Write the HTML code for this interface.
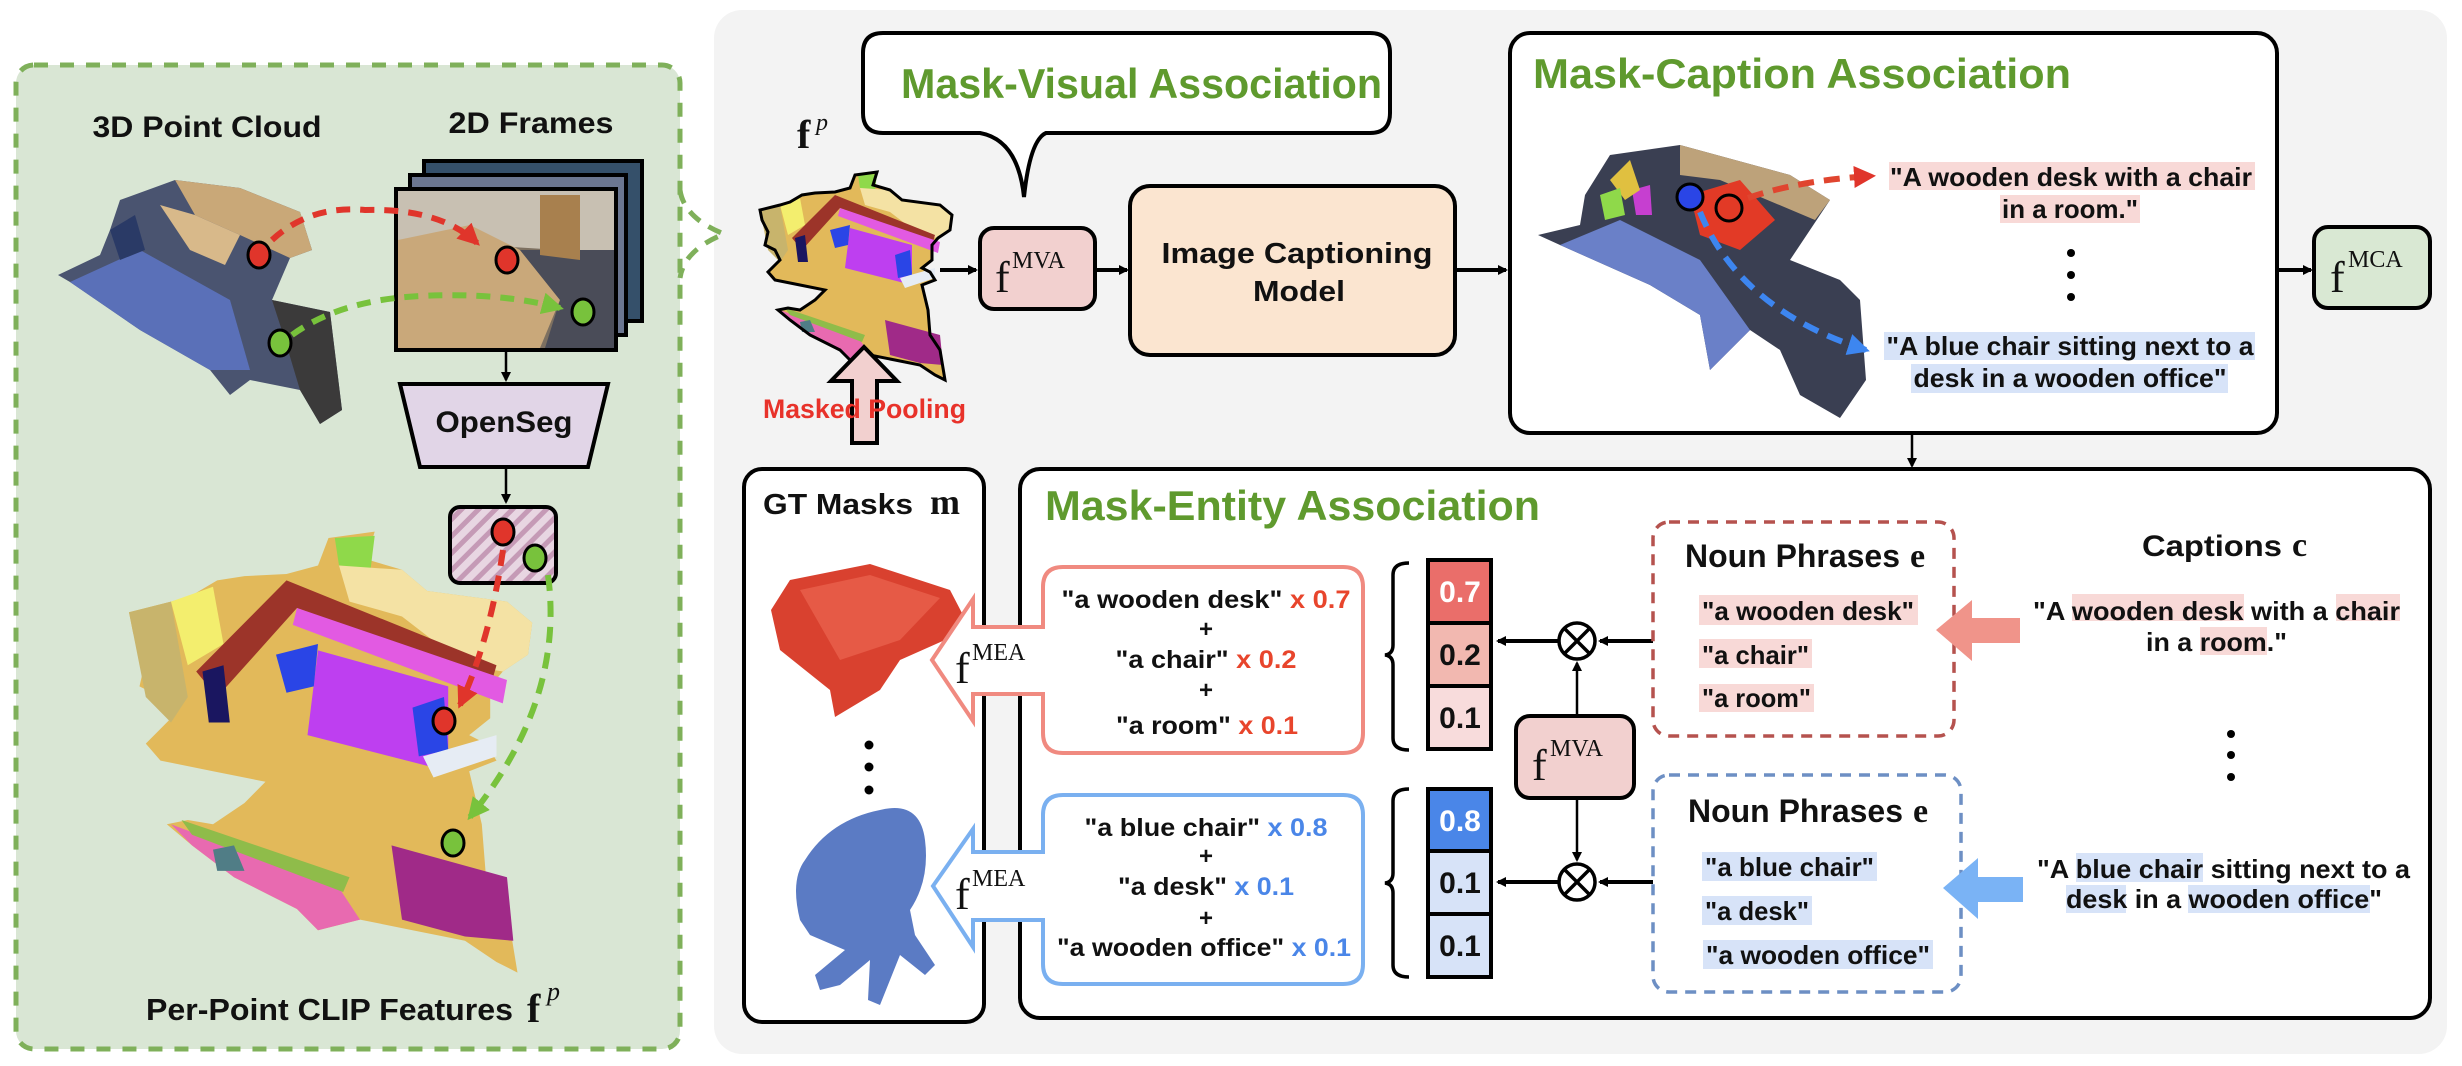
<!DOCTYPE html>
<html><head><meta charset="utf-8"><style>
html,body{margin:0;padding:0;background:#fff}
svg{display:block}
text{font-family:"Liberation Sans",Arial,sans-serif;font-weight:bold;fill:#111}
.s{font-family:"Liberation Serif",serif;font-weight:normal}
.g{fill:#5f9a2e}
</style></head><body>
<svg width="2462" height="1066" viewBox="0 0 2462 1066" xmlns="http://www.w3.org/2000/svg">
<defs>
<pattern id="hatch" width="12" height="12" patternUnits="userSpaceOnUse" patternTransform="rotate(45)">
<rect width="12" height="12" fill="#e8d6e2"/><rect width="5" height="12" fill="#c59ab6"/></pattern>
<marker id="ab" markerWidth="10" markerHeight="10" refX="8" refY="5" orient="auto" markerUnits="userSpaceOnUse"><path d="M0,0 L10,5 L0,10 Z" fill="#000"/></marker>
<marker id="ar" markerWidth="22" markerHeight="22" refX="18" refY="11" orient="auto" markerUnits="userSpaceOnUse"><path d="M0,0 L22,11 L0,22 Z" fill="#e0352b"/></marker>
<marker id="ag" markerWidth="22" markerHeight="22" refX="18" refY="11" orient="auto" markerUnits="userSpaceOnUse"><path d="M0,0 L22,11 L0,22 Z" fill="#78c23c"/></marker>
<marker id="abl" markerWidth="22" markerHeight="22" refX="18" refY="11" orient="auto" markerUnits="userSpaceOnUse"><path d="M0,0 L22,11 L0,22 Z" fill="#3d86f0"/></marker>
<g id="mesh">
<path d="M115,25 L137,22 L133,35 L150,40 L162,50 L200,55 L212,65 L210,80 L198,88 L192,95 L192,110 L182,118 L190,122 L195,130 L182,135 L188,160 L190,185 L200,200 L205,230 L195,225 L180,215 L155,210 L130,205 L110,210 L100,200 L70,185 L50,170 L38,160 L48,158 L60,160 L75,150 L85,140 L60,135 L35,130 L28,122 L40,110 L35,100 L25,95 L28,82 L22,70 L20,60 L40,55 L50,52 L62,45 L75,43 L95,42 L110,38 Z" fill="#e2b95a"/>
<path d="M118,25 L137,24 L135,40 L120,38 Z" fill="#8fd94a"/>
<path d="M120,38 L150,40 L162,50 L200,55 L212,65 L210,80 L198,88 L180,85 L150,62 L125,55 Z" fill="#f4e2a4"/>
<path d="M20,60 L40,55 L48,100 L40,112 L28,100 Z" fill="#c8b46c"/>
<path d="M40,55 L60,48 L65,75 L48,85 Z" fill="#f3ee6e"/>
<path d="M52,88 L95,45 L195,85 L193,92 L100,58 L62,100 Z" fill="#9c3429"/>
<path d="M100,58 L200,92 L198,103 L98,66 Z" fill="#e25ae2"/>
<path d="M110,78 L172,95 L172,135 L105,118 Z" fill="#be3ff0"/>
<path d="M90,80 L110,75 L108,95 L95,98 Z" fill="#2a45e6"/>
<path d="M155,105 L170,100 L172,125 L158,128 Z" fill="#2a45e6"/>
<path d="M55,88 L65,85 L68,112 L58,112 Z" fill="#1a1660"/>
<path d="M160,128 L195,118 L195,128 L165,138 Z" fill="#e6ecf4"/>
<path d="M40,160 L120,190 L130,205 L110,210 L100,200 L70,185 L50,170 Z" fill="#e86ab0"/>
<path d="M45,158 L125,185 L122,192 L50,165 Z" fill="#8fbc4a"/>
<path d="M145,170 L200,185 L203,215 L180,213 L150,205 Z" fill="#a02a88"/>
<path d="M60,172 L70,170 L75,182 L62,182 Z" fill="#507d86"/>
</g>
</defs>

<!-- green left panel -->
<rect x="16" y="65" width="664" height="984" rx="18" fill="#d9e6d4" stroke="#7fb05a" stroke-width="5" stroke-dasharray="14 12"/>
<!-- gray panel -->
<rect x="714" y="10" width="1733" height="1044" rx="28" fill="#f3f3f3"/>
<!-- curly connector -->
<path d="M680,190 Q684,218 724,234 Q684,250 680,278" fill="none" stroke="#7fb05a" stroke-width="5" stroke-dasharray="14 10"/>

<!-- left panel content -->
<text x="207" y="137" text-anchor="middle" font-size="30" textLength="229" lengthAdjust="spacingAndGlyphs">3D Point Cloud</text>
<text x="531" y="133" text-anchor="middle" font-size="30" textLength="165" lengthAdjust="spacingAndGlyphs">2D Frames</text>
<!-- 3D point cloud -->
<g>
<path d="M120,200 L175,180 L240,188 L300,212 L312,250 L290,258 L272,300 L330,312 L342,410 L320,424 L300,390 L250,380 L230,395 L210,370 L140,330 L70,282 L58,275 L100,255 L110,230 Z" fill="#4a5470"/>
<path d="M70,282 L140,250 L230,300 L250,370 L210,370 L140,330 Z" fill="#5a70b8"/>
<path d="M175,180 L240,188 L300,212 L312,250 L290,258 L240,235 L195,215 Z" fill="#c9a878"/>
<path d="M160,205 L195,215 L240,235 L225,265 L190,250 Z" fill="#d8b98a"/>
<path d="M272,300 L330,312 L342,410 L320,424 L300,390 L285,340 Z" fill="#3b3a3a"/>
<path d="M110,230 L135,215 L145,250 L120,260 Z" fill="#2a3a66"/>
</g>
<!-- frames -->
<rect x="424" y="161" width="218" height="160" fill="#35506a" stroke="#000" stroke-width="4"/>
<rect x="410" y="175" width="216" height="160" fill="#6b7690" stroke="#000" stroke-width="4"/>
<rect x="396" y="189" width="220" height="161" fill="#7d7060" stroke="#000" stroke-width="4"/>
<path d="M398,191 L614,191 L614,290 L560,250 L398,240 Z" fill="#c8c0b2"/>
<path d="M398,240 L470,225 L520,250 L560,300 L540,348 L398,348 Z" fill="#c9a87a"/>
<path d="M520,250 L614,250 L614,348 L545,348 L560,300 Z" fill="#4a4c58"/>
<path d="M540,195 L580,195 L580,260 L540,255 Z" fill="#a8804e"/>
<!-- dashed correspondences -->
<path d="M272,240 Q310,205 365,210 Q440,208 477,243" fill="none" stroke="#e0352b" stroke-width="6" stroke-dasharray="14 10" marker-end="url(#ar)"/>
<path d="M292,335 Q340,300 420,296 Q500,292 560,308" fill="none" stroke="#78c23c" stroke-width="6" stroke-dasharray="14 10" marker-end="url(#ag)"/>
<ellipse cx="259" cy="255" rx="11" ry="13" fill="#e0352b" stroke="#000" stroke-width="3"/>
<ellipse cx="280" cy="343" rx="11" ry="13" fill="#78c23c" stroke="#000" stroke-width="3"/>
<ellipse cx="507" cy="260" rx="11" ry="13" fill="#e0352b" stroke="#000" stroke-width="3"/>
<ellipse cx="583" cy="312" rx="11" ry="13" fill="#78c23c" stroke="#000" stroke-width="3"/>
<!-- openseg -->
<line x1="506" y1="350" x2="506" y2="380" stroke="#000" stroke-width="2.5" marker-end="url(#ab)"/>
<path d="M400,384 L608,384 L588,467 L420,467 Z" fill="#e1d5e7" stroke="#000" stroke-width="4"/>
<text x="504" y="432" text-anchor="middle" font-size="30" textLength="137" lengthAdjust="spacingAndGlyphs">OpenSeg</text>
<line x1="506" y1="467" x2="506" y2="502" stroke="#000" stroke-width="2.5" marker-end="url(#ab)"/>
<!-- big per-point mesh -->
<use href="#mesh" transform="translate(87,485) scale(2.1,2.12)"/>
<rect x="450" y="507" width="106" height="76" rx="10" fill="url(#hatch)" stroke="#000" stroke-width="4"/>
<path d="M503,550 Q490,640 460,705" fill="none" stroke="#e0352b" stroke-width="6" stroke-dasharray="16 10" marker-end="url(#ar)"/>
<path d="M548,575 Q565,700 470,817" fill="none" stroke="#78c23c" stroke-width="6" stroke-dasharray="16 10" marker-end="url(#ag)"/>
<ellipse cx="503" cy="532" rx="11" ry="13" fill="#e0352b" stroke="#000" stroke-width="3"/>
<ellipse cx="535" cy="558" rx="11" ry="13" fill="#78c23c" stroke="#000" stroke-width="3"/>
<ellipse cx="444" cy="721" rx="11" ry="13" fill="#e0352b" stroke="#000" stroke-width="3"/>
<ellipse cx="453" cy="843" rx="11" ry="13" fill="#78c23c" stroke="#000" stroke-width="3"/>
<text x="146" y="1020" font-size="31" textLength="367" lengthAdjust="spacingAndGlyphs">Per-Point CLIP Features</text>
<text x="527" y="1022" class="s" font-size="40" font-weight="bold" style="font-weight:bold">f</text>
<text x="547" y="1000" class="s" font-size="26" font-style="italic">p</text>

<!-- Mask-Visual bubble -->
<path d="M883,33 H1370 Q1390,33 1390,53 V113 Q1390,133 1370,133 H1046 Q1030,140 1024,197 Q1018,140 980,133 H883 Q863,133 863,113 V53 Q863,33 883,33 Z" fill="#fff" stroke="#000" stroke-width="4"/>
<text x="901" y="98" class="g" font-size="42" textLength="481" lengthAdjust="spacingAndGlyphs">Mask-Visual Association</text>
<text x="797" y="148" class="s" font-size="40" style="font-weight:bold">f</text>
<text x="816" y="130" class="s" font-size="24" font-style="italic">p</text>
<!-- fp mesh -->
<use href="#mesh" transform="translate(740,150)" stroke="#000" stroke-width="0"/>
<path d="M115,25 L137,22 L133,35 L150,40 L162,50 L200,55 L212,65 L210,80 L198,88 L192,95 L192,110 L182,118 L190,122 L195,130 L182,135 L188,160 L190,185 L200,200 L205,230 L195,225 L180,215 L155,210 L130,205 L110,210 L100,200 L70,185 L50,170 L38,160 L48,158 L60,160 L75,150 L85,140 L60,135 L35,130 L28,122 L40,110 L35,100 L25,95 L28,82 L22,70 L20,60 L40,55 L50,52 L62,45 L75,43 L95,42 L110,38 Z" transform="translate(740,150)" fill="none" stroke="#000" stroke-width="3"/>
<!-- masked pooling arrow -->
<path d="M864,347 L897,381 L877,381 L877,443 L852,443 L852,381 L831,381 Z" fill="#f2d0cf" stroke="#000" stroke-width="4"/>
<text x="763" y="418" font-size="27" fill="#e8322a" style="fill:#e8322a" textLength="203" lengthAdjust="spacingAndGlyphs">Masked Pooling</text>
<!-- fMVA -->
<line x1="940" y1="270" x2="976" y2="270" stroke="#000" stroke-width="4" marker-end="url(#ab)"/>
<rect x="980" y="228" width="115" height="81" rx="14" fill="#f2d0cf" stroke="#000" stroke-width="4"/>
<text x="995" y="292" class="s" font-size="44">f</text>
<text x="1012" y="268" class="s" font-size="24">MVA</text>
<line x1="1095" y1="270" x2="1127" y2="270" stroke="#000" stroke-width="4" marker-end="url(#ab)"/>
<!-- image captioning -->
<rect x="1130" y="186" width="325" height="169" rx="20" fill="#fbe5d0" stroke="#000" stroke-width="4"/>
<text x="1297" y="263" text-anchor="middle" font-size="29" textLength="271" lengthAdjust="spacingAndGlyphs">Image Captioning</text>
<text x="1299" y="301" text-anchor="middle" font-size="29" textLength="92" lengthAdjust="spacingAndGlyphs">Model</text>
<line x1="1455" y1="270" x2="1506" y2="270" stroke="#000" stroke-width="4" marker-end="url(#ab)"/>

<!-- Mask-Caption -->
<rect x="1510" y="33" width="767" height="400" rx="20" fill="#fff" stroke="#000" stroke-width="4"/>
<text x="1533" y="88" class="g" font-size="42" textLength="538" lengthAdjust="spacingAndGlyphs">Mask-Caption Association</text>
<g>
<path d="M1610,155 L1680,145 L1790,175 L1830,200 L1810,230 L1790,260 L1840,280 L1860,300 L1866,380 L1840,418 L1800,395 L1780,350 L1750,330 L1710,370 L1700,315 L1650,285 L1560,245 L1538,235 L1580,225 L1585,195 Z" fill="#3a3f52"/>
<path d="M1560,245 L1620,220 L1700,260 L1750,330 L1710,370 L1700,315 L1650,285 Z" fill="#6a80c8"/>
<path d="M1680,145 L1790,175 L1830,200 L1815,220 L1720,180 L1680,175 Z" fill="#bda27a"/>
<path d="M1690,195 L1740,180 L1775,220 L1740,250 L1700,235 Z" fill="#e23a26"/>
<path d="M1632,190 L1650,185 L1652,215 L1636,215 Z" fill="#c63fd0"/>
<path d="M1610,180 L1630,160 L1640,190 L1625,200 Z" fill="#e0c040"/>
<path d="M1600,195 L1620,188 L1625,215 L1605,220 Z" fill="#8fd94a"/>
</g>
<path d="M1748,198 Q1800,180 1872,176" fill="none" stroke="#e0452f" stroke-width="6" stroke-dasharray="16 10" marker-end="url(#ar)"/>
<path d="M1700,212 Q1740,310 1866,350" fill="none" stroke="#3d86f0" stroke-width="6" stroke-dasharray="16 10" marker-end="url(#abl)"/>
<circle cx="1690" cy="197" r="13" fill="#2a45e6" stroke="#000" stroke-width="3"/>
<circle cx="1729" cy="208" r="13" fill="none" stroke="#000" stroke-width="3"/>
<rect x="1889" y="162" width="366" height="28" fill="#f8d9d7"/>
<rect x="2000" y="195" width="140" height="28" fill="#f8d9d7"/>
<text x="2071" y="186" text-anchor="middle" font-size="26" textLength="362" lengthAdjust="spacingAndGlyphs">"A wooden desk with a chair</text>
<text x="2070" y="218" text-anchor="middle" font-size="26" textLength="136" lengthAdjust="spacingAndGlyphs">in a room."</text>
<circle cx="2071" cy="253" r="4" fill="#000"/><circle cx="2071" cy="275" r="4" fill="#000"/><circle cx="2071" cy="297" r="4" fill="#000"/>
<rect x="1884" y="332" width="371" height="28" fill="#d7e3f8"/>
<rect x="1911" y="364" width="317" height="29" fill="#d7e3f8"/>
<text x="2070" y="355" text-anchor="middle" font-size="26" textLength="367" lengthAdjust="spacingAndGlyphs">"A blue chair sitting next to a</text>
<text x="2070" y="387" text-anchor="middle" font-size="26" textLength="313" lengthAdjust="spacingAndGlyphs">desk in a wooden office"</text>
<line x1="2277" y1="270" x2="2311" y2="270" stroke="#000" stroke-width="4" marker-end="url(#ab)"/>
<rect x="2314" y="227" width="116" height="81" rx="14" fill="#d9e8d3" stroke="#000" stroke-width="4"/>
<text x="2330" y="292" class="s" font-size="44">f</text>
<text x="2348" y="267" class="s" font-size="24">MCA</text>
<line x1="1912" y1="433" x2="1912" y2="466" stroke="#000" stroke-width="2.5" marker-end="url(#ab)"/>

<!-- GT masks box -->
<rect x="744" y="469" width="240" height="553" rx="18" fill="#fff" stroke="#000" stroke-width="4"/>
<text x="763" y="514" font-size="29" textLength="150" lengthAdjust="spacingAndGlyphs">GT Masks</text>
<text x="930" y="514" class="s" font-size="36" style="font-weight:bold">m</text>
<path d="M790,580 L870,564 L950,590 L963,615 L945,640 L900,660 L880,690 L835,717 L830,690 L780,650 L771,610 Z" fill="#d9412f"/>
<path d="M800,590 L870,575 L940,598 L900,640 L840,660 Z" fill="#e65a46"/>
<circle cx="869" cy="745" r="4.5" fill="#000"/><circle cx="869" cy="767" r="4.5" fill="#000"/><circle cx="869" cy="790" r="4.5" fill="#000"/>
<path d="M880,810 Q920,800 925,840 Q930,880 910,910 L915,935 L935,965 L925,975 L900,955 L880,1005 L868,1000 L870,960 L840,985 L820,990 L815,975 L845,950 L810,935 L800,920 Q790,880 805,860 Q830,820 880,810 Z" fill="#5b7bc4"/>

<!-- Mask-Entity box -->
<rect x="1020" y="469" width="1410" height="549" rx="20" fill="#fff" stroke="#000" stroke-width="4"/>
<text x="1045" y="520" class="g" font-size="42" textLength="495" lengthAdjust="spacingAndGlyphs">Mask-Entity Association</text>

<!-- red arrow box -->
<path d="M1063,567 H1343 Q1363,567 1363,587 V733 Q1363,753 1343,753 H1063 Q1043,753 1043,733 V694 H973 V721 L932,660 L973,599 V627 H1043 V587 Q1043,567 1063,567 Z" fill="#fff" stroke="#f08a80" stroke-width="4"/>
<text x="955" y="683" class="s" font-size="44">f</text>
<text x="972" y="660" class="s" font-size="24">MEA</text>
<text x="1206" y="608" text-anchor="middle" font-size="25" textLength="289" lengthAdjust="spacingAndGlyphs">"a wooden desk" <tspan style="fill:#e8452c">x 0.7</tspan></text>
<text x="1206" y="637" text-anchor="middle" font-size="24">+</text>
<text x="1206" y="668" text-anchor="middle" font-size="25" textLength="181" lengthAdjust="spacingAndGlyphs">"a chair" <tspan style="fill:#e8452c">x 0.2</tspan></text>
<text x="1206" y="698" text-anchor="middle" font-size="24">+</text>
<text x="1207" y="734" text-anchor="middle" font-size="25" textLength="182" lengthAdjust="spacingAndGlyphs">"a room" <tspan style="fill:#e8452c">x 0.1</tspan></text>
<!-- blue arrow box -->
<path d="M1063,795 H1343 Q1363,795 1363,815 V964 Q1363,984 1343,984 H1063 Q1043,984 1043,964 V920 H973 V947 L933,886 L973,829 V852 H1043 V815 Q1043,795 1063,795 Z" fill="#fff" stroke="#7ab0f0" stroke-width="4"/>
<text x="955" y="909" class="s" font-size="44">f</text>
<text x="972" y="886" class="s" font-size="24">MEA</text>
<text x="1206" y="836" text-anchor="middle" font-size="25" textLength="243" lengthAdjust="spacingAndGlyphs">"a blue chair" <tspan style="fill:#4a86e8">x 0.8</tspan></text>
<text x="1206" y="864" text-anchor="middle" font-size="24">+</text>
<text x="1206" y="895" text-anchor="middle" font-size="25" textLength="176" lengthAdjust="spacingAndGlyphs">"a desk" <tspan style="fill:#4a86e8">x 0.1</tspan></text>
<text x="1206" y="926" text-anchor="middle" font-size="24">+</text>
<text x="1204" y="956" text-anchor="middle" font-size="25" textLength="294" lengthAdjust="spacingAndGlyphs">"a wooden office" <tspan style="fill:#4a86e8">x 0.1</tspan></text>

<!-- braces -->
<path d="M1409,563 Q1393,563 1393,575 V645 Q1393,654 1385,655 Q1393,656 1393,665 V738 Q1393,750 1409,750" fill="none" stroke="#000" stroke-width="3.5"/>
<path d="M1409,789 Q1393,789 1393,801 V873 Q1393,882 1385,883 Q1393,884 1393,893 V965 Q1393,977 1409,977" fill="none" stroke="#000" stroke-width="3.5"/>
<!-- score columns -->
<rect x="1428" y="560" width="63" height="63" fill="#ea6e6a" stroke="#000" stroke-width="4"/>
<rect x="1428" y="623" width="63" height="63" fill="#f2b8b0" stroke="#000" stroke-width="4"/>
<rect x="1428" y="686" width="63" height="63" fill="#f8dcdc" stroke="#000" stroke-width="4"/>
<text x="1460" y="602" text-anchor="middle" font-size="30" style="fill:#fff">0.7</text>
<text x="1460" y="665" text-anchor="middle" font-size="30">0.2</text>
<text x="1460" y="728" text-anchor="middle" font-size="30">0.1</text>
<rect x="1428" y="789" width="63" height="62" fill="#4a86e8" stroke="#000" stroke-width="4"/>
<rect x="1428" y="851" width="63" height="63" fill="#d7e3f8" stroke="#000" stroke-width="4"/>
<rect x="1428" y="914" width="63" height="63" fill="#d7e3f8" stroke="#000" stroke-width="4"/>
<text x="1460" y="831" text-anchor="middle" font-size="30" style="fill:#fff">0.8</text>
<text x="1460" y="893" text-anchor="middle" font-size="30">0.1</text>
<text x="1460" y="956" text-anchor="middle" font-size="30">0.1</text>
<!-- otimes -->
<g stroke="#000" stroke-width="3.5" fill="#fff">
<circle cx="1577" cy="641" r="18"/><line x1="1564" y1="628" x2="1590" y2="654"/><line x1="1590" y1="628" x2="1564" y2="654"/>
<circle cx="1577" cy="882" r="18"/><line x1="1564" y1="869" x2="1590" y2="895"/><line x1="1590" y1="869" x2="1564" y2="895"/>
</g>
<line x1="1558" y1="641" x2="1498" y2="641" stroke="#000" stroke-width="4" marker-end="url(#ab)"/>
<line x1="1558" y1="882" x2="1498" y2="882" stroke="#000" stroke-width="4" marker-end="url(#ab)"/>
<line x1="1653" y1="641" x2="1600" y2="641" stroke="#000" stroke-width="4" marker-end="url(#ab)"/>
<line x1="1653" y1="882" x2="1600" y2="882" stroke="#000" stroke-width="4" marker-end="url(#ab)"/>
<line x1="1577" y1="716" x2="1577" y2="663" stroke="#000" stroke-width="2.5" marker-end="url(#ab)"/>
<line x1="1577" y1="798" x2="1577" y2="860" stroke="#000" stroke-width="2.5" marker-end="url(#ab)"/>
<rect x="1516" y="716" width="118" height="82" rx="14" fill="#f2d0cf" stroke="#000" stroke-width="4"/>
<text x="1532" y="780" class="s" font-size="44">f</text>
<text x="1550" y="756" class="s" font-size="24">MVA</text>

<!-- noun phrase boxes -->
<rect x="1653" y="522" width="301" height="214" rx="16" fill="#fff" stroke="#b5524e" stroke-width="3.5" stroke-dasharray="11 8"/>
<text x="1685" y="567" font-size="32" textLength="215" lengthAdjust="spacingAndGlyphs">Noun Phrases</text>
<text x="1910" y="567" class="s" font-size="34" style="font-weight:bold">e</text>
<rect x="1699" y="595" width="219" height="30" fill="#f8d9d7"/>
<rect x="1699" y="639" width="113" height="29" fill="#f8d9d7"/>
<rect x="1699" y="684" width="115" height="28" fill="#f8d9d7"/>
<text x="1702" y="620" font-size="26" textLength="212" lengthAdjust="spacingAndGlyphs">"a wooden desk"</text>
<text x="1702" y="664" font-size="26" textLength="107" lengthAdjust="spacingAndGlyphs">"a chair"</text>
<text x="1702" y="707" font-size="26" textLength="109" lengthAdjust="spacingAndGlyphs">"a room"</text>

<rect x="1653" y="775" width="308" height="217" rx="16" fill="#fff" stroke="#6d8fc4" stroke-width="3.5" stroke-dasharray="11 8"/>
<text x="1688" y="822" font-size="32" textLength="215" lengthAdjust="spacingAndGlyphs">Noun Phrases</text>
<text x="1913" y="822" class="s" font-size="34" style="font-weight:bold">e</text>
<rect x="1702" y="852" width="175" height="29" fill="#d7e3f8"/>
<rect x="1702" y="896" width="110" height="29" fill="#d7e3f8"/>
<rect x="1703" y="940" width="230" height="29" fill="#d7e3f8"/>
<text x="1705" y="876" font-size="26" textLength="169" lengthAdjust="spacingAndGlyphs">"a blue chair"</text>
<text x="1705" y="920" font-size="26" textLength="104" lengthAdjust="spacingAndGlyphs">"a desk"</text>
<text x="1706" y="964" font-size="26" textLength="224" lengthAdjust="spacingAndGlyphs">"a wooden office"</text>

<!-- captions column -->
<text x="2142" y="556" font-size="30" textLength="140" lengthAdjust="spacingAndGlyphs">Captions</text>
<text x="2292" y="556" class="s" font-size="34" style="font-weight:bold">c</text>
<path d="M1936,630 L1972,600 L1972,618 L2020,618 L2020,643 L1972,643 L1972,661 Z" fill="#f0948a"/>
<path d="M1943,888 L1978,858 L1978,877 L2023,877 L2023,902 L1978,902 L1978,919 Z" fill="#7ab3f5"/>
<rect x="2072" y="594" width="172" height="27" fill="#f8d9d7"/>
<rect x="2336" y="594" width="64" height="27" fill="#f8d9d7"/>
<rect x="2200" y="627" width="67" height="28" fill="#f8d9d7"/>
<text x="2033" y="620" font-size="26" textLength="367" lengthAdjust="spacingAndGlyphs">"A wooden desk with a chair</text>
<text x="2146" y="651" font-size="26" textLength="141" lengthAdjust="spacingAndGlyphs">in a room."</text>
<circle cx="2231" cy="734" r="4" fill="#000"/><circle cx="2231" cy="755" r="4" fill="#000"/><circle cx="2231" cy="777" r="4" fill="#000"/>
<rect x="2076" y="853" width="127" height="29" fill="#d7e3f8"/>
<rect x="2066" y="885" width="60" height="28" fill="#d7e3f8"/>
<rect x="2188" y="885" width="182" height="28" fill="#d7e3f8"/>
<text x="2037" y="878" font-size="26" textLength="373" lengthAdjust="spacingAndGlyphs">"A blue chair sitting next to a</text>
<text x="2066" y="908" font-size="26" textLength="316" lengthAdjust="spacingAndGlyphs">desk in a wooden office"</text>
</svg>
</body></html>
